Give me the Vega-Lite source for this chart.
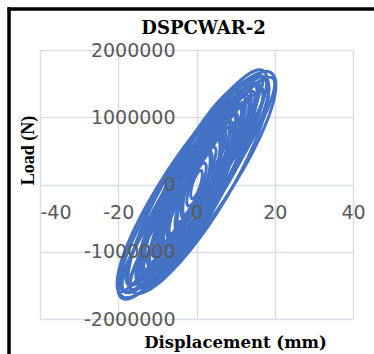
{
  "$schema": "https://vega.github.io/schema/vega-lite/v6.json",
  "width": 313,
  "height": 269,
  "autosize": {"type": "none"},
  "padding": {"left": 40, "top": 50, "right": 21, "bottom": 35},
  "background": "white",
  "config": {"view": {"stroke": null}},
  "title": {
    "text": "DSPCWAR-2",
    "font": "DejaVu Serif",
    "fontWeight": "bold",
    "fontSize": 18,
    "color": "black",
    "anchor": "middle",
    "frame": "group",
    "dx": 7,
    "baseline": "alphabetic",
    "offset": -46.5
  },
  "resolve": {"axis": {"x": "independent", "y": "independent"}},
  "layer": [
    {
      "data": {
        "values": [
          {"c":1,"i":0,"x":20.3,"y":1480000},{"c":1,"i":1,"x":17.58,"y":1682000},{"c":1,"i":2,"x":10.15,"y":1433000},{"c":1,"i":3,"x":0,"y":800000},{"c":1,"i":4,"x":-10.15,"y":-47000},{"c":1,"i":5,"x":-17.58,"y":-882000},{"c":1,"i":6,"x":-20.3,"y":-1480000},{"c":1,"i":7,"x":-17.58,"y":-1682000},{"c":1,"i":8,"x":-10.15,"y":-1433000},{"c":1,"i":9,"x":0,"y":-800000},{"c":1,"i":10,"x":10.15,"y":47000},{"c":1,"i":11,"x":17.58,"y":882000},
          {"c":2,"i":0,"x":18.5,"y":1450000},{"c":2,"i":1,"x":15.95,"y":1606000},{"c":2,"i":2,"x":9.0,"y":1331000},{"c":2,"i":3,"x":-0.5,"y":700000},{"c":2,"i":4,"x":-10.0,"y":-119000},{"c":2,"i":5,"x":-16.95,"y":-906000},{"c":2,"i":6,"x":-19.5,"y":-1450000},{"c":2,"i":7,"x":-16.95,"y":-1606000},{"c":2,"i":8,"x":-10.0,"y":-1331000},{"c":2,"i":9,"x":-0.5,"y":-700000},{"c":2,"i":10,"x":9.0,"y":119000},{"c":2,"i":11,"x":15.95,"y":906000},
          {"c":3,"i":0,"x":18.5,"y":1400000},{"c":3,"i":1,"x":16.09,"y":1622000},{"c":3,"i":2,"x":9.5,"y":1410000},{"c":3,"i":3,"x":0.5,"y":820000},{"c":3,"i":4,"x":-8.5,"y":10000},{"c":3,"i":5,"x":-15.09,"y":-802000},{"c":3,"i":6,"x":-17.5,"y":-1400000},{"c":3,"i":7,"x":-15.09,"y":-1622000},{"c":3,"i":8,"x":-8.5,"y":-1410000},{"c":3,"i":9,"x":0.5,"y":-820000},{"c":3,"i":10,"x":9.5,"y":-10000},{"c":3,"i":11,"x":16.09,"y":802000},
          {"c":4,"i":0,"x":16,"y":1400000},{"c":4,"i":1,"x":13.72,"y":1487000},{"c":4,"i":2,"x":7.5,"y":1176000},{"c":4,"i":3,"x":-1,"y":550000},{"c":4,"i":4,"x":-9.5,"y":-224000},{"c":4,"i":5,"x":-15.72,"y":-937000},{"c":4,"i":6,"x":-18,"y":-1400000},{"c":4,"i":7,"x":-15.72,"y":-1487000},{"c":4,"i":8,"x":-9.5,"y":-1176000},{"c":4,"i":9,"x":-1,"y":-550000},{"c":4,"i":10,"x":7.5,"y":224000},{"c":4,"i":11,"x":13.72,"y":937000},
          {"c":5,"i":0,"x":17,"y":1350000},{"c":5,"i":1,"x":14.86,"y":1494000},{"c":5,"i":2,"x":9,"y":1238000},{"c":5,"i":3,"x":1,"y":650000},{"c":5,"i":4,"x":-7,"y":-112000},{"c":5,"i":5,"x":-12.86,"y":-844000},{"c":5,"i":6,"x":-15,"y":-1350000},{"c":5,"i":7,"x":-12.86,"y":-1494000},{"c":5,"i":8,"x":-7,"y":-1238000},{"c":5,"i":9,"x":1,"y":-650000},{"c":5,"i":10,"x":9,"y":112000},{"c":5,"i":11,"x":14.86,"y":844000},
          {"c":6,"i":0,"x":15,"y":1300000},{"c":6,"i":1,"x":12.99,"y":1376000},{"c":6,"i":2,"x":7.5,"y":1083000},{"c":6,"i":3,"x":0,"y":500000},{"c":6,"i":4,"x":-7.5,"y":-217000},{"c":6,"i":5,"x":-12.99,"y":-876000},{"c":6,"i":6,"x":-15,"y":-1300000},{"c":6,"i":7,"x":-12.99,"y":-1376000},{"c":6,"i":8,"x":-7.5,"y":-1083000},{"c":6,"i":9,"x":0,"y":-500000},{"c":6,"i":10,"x":7.5,"y":217000},{"c":6,"i":11,"x":12.99,"y":876000},
          {"c":7,"i":0,"x":13.5,"y":1220000},{"c":7,"i":1,"x":11.62,"y":1357000},{"c":7,"i":2,"x":6.5,"y":1130000},{"c":7,"i":3,"x":-0.5,"y":600000},{"c":7,"i":4,"x":-7.5,"y":-90000},{"c":7,"i":5,"x":-12.62,"y":-757000},{"c":7,"i":6,"x":-14.5,"y":-1220000},{"c":7,"i":7,"x":-12.62,"y":-1357000},{"c":7,"i":8,"x":-7.5,"y":-1130000},{"c":7,"i":9,"x":-0.5,"y":-600000},{"c":7,"i":10,"x":6.5,"y":90000},{"c":7,"i":11,"x":11.62,"y":757000},
          {"c":8,"i":0,"x":13.5,"y":1150000},{"c":8,"i":1,"x":11.76,"y":1221000},{"c":8,"i":2,"x":7,"y":965000},{"c":8,"i":3,"x":0.5,"y":450000},{"c":8,"i":4,"x":-6,"y":-185000},{"c":8,"i":5,"x":-10.76,"y":-771000},{"c":8,"i":6,"x":-12.5,"y":-1150000},{"c":8,"i":7,"x":-10.76,"y":-1221000},{"c":8,"i":8,"x":-6,"y":-965000},{"c":8,"i":9,"x":0.5,"y":-450000},{"c":8,"i":10,"x":7,"y":185000},{"c":8,"i":11,"x":11.76,"y":771000},
          {"c":9,"i":0,"x":12,"y":1080000},{"c":9,"i":1,"x":10.39,"y":1210000},{"c":9,"i":2,"x":6,"y":1016000},{"c":9,"i":3,"x":0,"y":550000},{"c":9,"i":4,"x":-6,"y":-64000},{"c":9,"i":5,"x":-10.39,"y":-660000},{"c":9,"i":6,"x":-12,"y":-1080000},{"c":9,"i":7,"x":-10.39,"y":-1210000},{"c":9,"i":8,"x":-6,"y":-1016000},{"c":9,"i":9,"x":0,"y":-550000},{"c":9,"i":10,"x":6,"y":64000},{"c":9,"i":11,"x":10.39,"y":660000},
          {"c":10,"i":0,"x":10.5,"y":1000000},{"c":10,"i":1,"x":9.03,"y":1066000},{"c":10,"i":2,"x":5,"y":846000},{"c":10,"i":3,"x":-0.5,"y":400000},{"c":10,"i":4,"x":-6,"y":-154000},{"c":10,"i":5,"x":-10.03,"y":-666000},{"c":10,"i":6,"x":-11.5,"y":-1000000},{"c":10,"i":7,"x":-10.03,"y":-1066000},{"c":10,"i":8,"x":-6,"y":-846000},{"c":10,"i":9,"x":-0.5,"y":-400000},{"c":10,"i":10,"x":5,"y":154000},{"c":10,"i":11,"x":9.03,"y":666000},
          {"c":11,"i":0,"x":9.5,"y":850000},{"c":11,"i":1,"x":8.29,"y":936000},{"c":11,"i":2,"x":5,"y":771000},{"c":11,"i":3,"x":0.5,"y":400000},{"c":11,"i":4,"x":-4,"y":-79000},{"c":11,"i":5,"x":-7.29,"y":-536000},{"c":11,"i":6,"x":-8.5,"y":-850000},{"c":11,"i":7,"x":-7.29,"y":-936000},{"c":11,"i":8,"x":-4,"y":-771000},{"c":11,"i":9,"x":0.5,"y":-400000},{"c":11,"i":10,"x":5,"y":79000},{"c":11,"i":11,"x":8.29,"y":536000},
          {"c":12,"i":0,"x":7,"y":680000},{"c":12,"i":1,"x":6.06,"y":764000},{"c":12,"i":2,"x":3.5,"y":643000},{"c":12,"i":3,"x":0,"y":350000},{"c":12,"i":4,"x":-3.5,"y":-37000},{"c":12,"i":5,"x":-6.06,"y":-414000},{"c":12,"i":6,"x":-7,"y":-680000},{"c":12,"i":7,"x":-6.06,"y":-764000},{"c":12,"i":8,"x":-3.5,"y":-643000},{"c":12,"i":9,"x":0,"y":-350000},{"c":12,"i":10,"x":3.5,"y":37000},{"c":12,"i":11,"x":6.06,"y":414000},
          {"c":13,"i":0,"x":5,"y":500000},{"c":13,"i":1,"x":4.33,"y":558000},{"c":13,"i":2,"x":2.5,"y":467000},{"c":13,"i":3,"x":0,"y":250000},{"c":13,"i":4,"x":-2.5,"y":-33000},{"c":13,"i":5,"x":-4.33,"y":-308000},{"c":13,"i":6,"x":-5,"y":-500000},{"c":13,"i":7,"x":-4.33,"y":-558000},{"c":13,"i":8,"x":-2.5,"y":-467000},{"c":13,"i":9,"x":0,"y":-250000},{"c":13,"i":10,"x":2.5,"y":33000},{"c":13,"i":11,"x":4.33,"y":308000},
          {"c":14,"i":0,"x":18,"y":1550000},{"c":14,"i":1,"x":15.45,"y":1702000},{"c":14,"i":2,"x":8.5,"y":1399000},{"c":14,"i":3,"x":-1,"y":720000},{"c":14,"i":4,"x":-10.5,"y":-151000},{"c":14,"i":5,"x":-17.45,"y":-982000},{"c":14,"i":6,"x":-20,"y":-1550000},{"c":14,"i":7,"x":-17.45,"y":-1702000},{"c":14,"i":8,"x":-10.5,"y":-1399000},{"c":14,"i":9,"x":-1,"y":-720000},{"c":14,"i":10,"x":8.5,"y":151000},{"c":14,"i":11,"x":15.45,"y":982000},
          {"c":15,"i":0,"x":11,"y":900000},{"c":15,"i":1,"x":9.66,"y":1054000},{"c":15,"i":2,"x":6,"y":926000},{"c":15,"i":3,"x":1,"y":550000},{"c":15,"i":4,"x":-4,"y":26000},{"c":15,"i":5,"x":-7.66,"y":-504000},{"c":15,"i":6,"x":-9,"y":-900000},{"c":15,"i":7,"x":-7.66,"y":-1054000},{"c":15,"i":8,"x":-4,"y":-926000},{"c":15,"i":9,"x":1,"y":-550000},{"c":15,"i":10,"x":6,"y":-26000},{"c":15,"i":11,"x":9.66,"y":504000},
          {"c":16,"i":0,"x":18,"y":1500000},{"c":16,"i":1,"x":15.66,"y":1524000},{"c":16,"i":2,"x":9.25,"y":1140000},{"c":16,"i":3,"x":0.5,"y":450000},{"c":16,"i":4,"x":-8.25,"y":-360000},{"c":16,"i":5,"x":-14.66,"y":-1074000},{"c":16,"i":6,"x":-17,"y":-1500000},{"c":16,"i":7,"x":-14.66,"y":-1524000},{"c":16,"i":8,"x":-8.25,"y":-1140000},{"c":16,"i":9,"x":0.5,"y":-450000},{"c":16,"i":10,"x":9.25,"y":360000},{"c":16,"i":11,"x":15.66,"y":1074000},
          {"c":17,"i":0,"x":16,"y":1450000},{"c":17,"i":1,"x":13.79,"y":1431000},{"c":17,"i":2,"x":7.75,"y":1028000},{"c":17,"i":3,"x":-0.5,"y":350000},{"c":17,"i":4,"x":-8.75,"y":-422000},{"c":17,"i":5,"x":-14.79,"y":-1081000},{"c":17,"i":6,"x":-17,"y":-1450000},{"c":17,"i":7,"x":-14.79,"y":-1431000},{"c":17,"i":8,"x":-8.75,"y":-1028000},{"c":17,"i":9,"x":-0.5,"y":-350000},{"c":17,"i":10,"x":7.75,"y":422000},{"c":17,"i":11,"x":13.79,"y":1081000},
          {"c":18,"i":0,"x":15.5,"y":1350000},{"c":18,"i":1,"x":13.42,"y":1544000},{"c":18,"i":2,"x":7.75,"y":1325000},{"c":18,"i":3,"x":0,"y":750000},{"c":18,"i":4,"x":-7.75,"y":-25000},{"c":18,"i":5,"x":-13.42,"y":-794000},{"c":18,"i":6,"x":-15.5,"y":-1350000},{"c":18,"i":7,"x":-13.42,"y":-1544000},{"c":18,"i":8,"x":-7.75,"y":-1325000},{"c":18,"i":9,"x":0,"y":-750000},{"c":18,"i":10,"x":7.75,"y":25000},{"c":18,"i":11,"x":13.42,"y":794000},
          {"c":19,"i":0,"x":15,"y":1300000},{"c":19,"i":1,"x":13.06,"y":1276000},{"c":19,"i":2,"x":7.75,"y":910000},{"c":19,"i":3,"x":0.5,"y":300000},{"c":19,"i":4,"x":-6.75,"y":-390000},{"c":19,"i":5,"x":-12.06,"y":-976000},{"c":19,"i":6,"x":-14,"y":-1300000},{"c":19,"i":7,"x":-12.06,"y":-1276000},{"c":19,"i":8,"x":-6.75,"y":-910000},{"c":19,"i":9,"x":0.5,"y":-300000},{"c":19,"i":10,"x":7.75,"y":390000},{"c":19,"i":11,"x":13.06,"y":976000},
          {"c":20,"i":0,"x":12.5,"y":1200000},{"c":20,"i":1,"x":10.76,"y":1389000},{"c":20,"i":2,"x":6,"y":1206000},{"c":20,"i":3,"x":-0.5,"y":700000},{"c":20,"i":4,"x":-7,"y":6000},{"c":20,"i":5,"x":-11.76,"y":-689000},{"c":20,"i":6,"x":-13.5,"y":-1200000},{"c":20,"i":7,"x":-11.76,"y":-1389000},{"c":20,"i":8,"x":-7,"y":-1206000},{"c":20,"i":9,"x":-0.5,"y":-700000},{"c":20,"i":10,"x":6,"y":-6000},{"c":20,"i":11,"x":10.76,"y":689000},
          {"c":21,"i":0,"x":12.5,"y":1150000},{"c":21,"i":1,"x":10.83,"y":1146000},{"c":21,"i":2,"x":6.25,"y":835000},{"c":21,"i":3,"x":0,"y":300000},{"c":21,"i":4,"x":-6.25,"y":-315000},{"c":21,"i":5,"x":-10.83,"y":-846000},{"c":21,"i":6,"x":-12.5,"y":-1150000},{"c":21,"i":7,"x":-10.83,"y":-1146000},{"c":21,"i":8,"x":-6.25,"y":-835000},{"c":21,"i":9,"x":0,"y":-300000},{"c":21,"i":10,"x":6.25,"y":315000},{"c":21,"i":11,"x":10.83,"y":846000},
          {"c":22,"i":0,"x":10,"y":950000},{"c":22,"i":1,"x":8.66,"y":1123000},{"c":22,"i":2,"x":5,"y":995000},{"c":22,"i":3,"x":0,"y":600000},{"c":22,"i":4,"x":-5,"y":45000},{"c":22,"i":5,"x":-8.66,"y":-523000},{"c":22,"i":6,"x":-10,"y":-950000},{"c":22,"i":7,"x":-8.66,"y":-1123000},{"c":22,"i":8,"x":-5,"y":-995000},{"c":22,"i":9,"x":0,"y":-600000},{"c":22,"i":10,"x":5,"y":-45000},{"c":22,"i":11,"x":8.66,"y":523000},
          {"c":23,"i":0,"x":9,"y":850000},{"c":23,"i":1,"x":7.79,"y":836000},{"c":23,"i":2,"x":4.5,"y":598000},{"c":23,"i":3,"x":0,"y":200000},{"c":23,"i":4,"x":-4.5,"y":-252000},{"c":23,"i":5,"x":-7.79,"y":-636000},{"c":23,"i":6,"x":-9,"y":-850000},{"c":23,"i":7,"x":-7.79,"y":-836000},{"c":23,"i":8,"x":-4.5,"y":-598000},{"c":23,"i":9,"x":0,"y":-200000},{"c":23,"i":10,"x":4.5,"y":252000},{"c":23,"i":11,"x":7.79,"y":636000},
          {"c":24,"i":0,"x":7.5,"y":800000},{"c":24,"i":1,"x":6.43,"y":943000},{"c":24,"i":2,"x":3.5,"y":833000},{"c":24,"i":3,"x":-0.5,"y":500000},{"c":24,"i":4,"x":-4.5,"y":33000},{"c":24,"i":5,"x":-7.43,"y":-443000},{"c":24,"i":6,"x":-8.5,"y":-800000},{"c":24,"i":7,"x":-7.43,"y":-943000},{"c":24,"i":8,"x":-4.5,"y":-833000},{"c":24,"i":9,"x":-0.5,"y":-500000},{"c":24,"i":10,"x":3.5,"y":-33000},{"c":24,"i":11,"x":6.43,"y":443000},
          {"c":25,"i":0,"x":6.5,"y":600000},{"c":25,"i":1,"x":5.7,"y":720000},{"c":25,"i":2,"x":3.5,"y":646000},{"c":25,"i":3,"x":0.5,"y":400000},{"c":25,"i":4,"x":-2.5,"y":46000},{"c":25,"i":5,"x":-4.7,"y":-320000},{"c":25,"i":6,"x":-5.5,"y":-600000},{"c":25,"i":7,"x":-4.7,"y":-720000},{"c":25,"i":8,"x":-2.5,"y":-646000},{"c":25,"i":9,"x":0.5,"y":-400000},{"c":25,"i":10,"x":3.5,"y":-46000},{"c":25,"i":11,"x":5.7,"y":320000},
          {"c":26,"i":0,"x":20,"y":1500000},{"c":26,"i":1,"x":17.39,"y":1574000},{"c":26,"i":2,"x":10.25,"y":1226000},{"c":26,"i":3,"x":0.5,"y":550000},{"c":26,"i":4,"x":-9.25,"y":-274000},{"c":26,"i":5,"x":-16.39,"y":-1024000},{"c":26,"i":6,"x":-19,"y":-1500000},{"c":26,"i":7,"x":-16.39,"y":-1574000},{"c":26,"i":8,"x":-9.25,"y":-1226000},{"c":26,"i":9,"x":0.5,"y":-550000},{"c":26,"i":10,"x":10.25,"y":274000},{"c":26,"i":11,"x":17.39,"y":1024000},
          {"c":27,"i":0,"x":17,"y":1550000},{"c":27,"i":1,"x":14.52,"y":1542000},{"c":27,"i":2,"x":7.75,"y":1121000},{"c":27,"i":3,"x":-1.5,"y":400000},{"c":27,"i":4,"x":-10.75,"y":-429000},{"c":27,"i":5,"x":-17.52,"y":-1142000},{"c":27,"i":6,"x":-20,"y":-1550000},{"c":27,"i":7,"x":-17.52,"y":-1542000},{"c":27,"i":8,"x":-10.75,"y":-1121000},{"c":27,"i":9,"x":-1.5,"y":-400000},{"c":27,"i":10,"x":7.75,"y":429000},{"c":27,"i":11,"x":14.52,"y":1142000},
          {"c":28,"i":0,"x":4,"y":400000},{"c":28,"i":1,"x":3.46,"y":496000},{"c":28,"i":2,"x":2,"y":460000},{"c":28,"i":3,"x":0,"y":300000},{"c":28,"i":4,"x":-2,"y":60000},{"c":28,"i":5,"x":-3.46,"y":-196000},{"c":28,"i":6,"x":-4,"y":-400000},{"c":28,"i":7,"x":-3.46,"y":-496000},{"c":28,"i":8,"x":-2,"y":-460000},{"c":28,"i":9,"x":0,"y":-300000},{"c":28,"i":10,"x":2,"y":-60000},{"c":28,"i":11,"x":3.46,"y":196000},
          {"c":29,"i":0,"x":2.5,"y":250000},{"c":29,"i":1,"x":2.17,"y":317000},{"c":29,"i":2,"x":1.25,"y":298000},{"c":29,"i":3,"x":0,"y":200000},{"c":29,"i":4,"x":-1.25,"y":48000},{"c":29,"i":5,"x":-2.17,"y":-117000},{"c":29,"i":6,"x":-2.5,"y":-250000},{"c":29,"i":7,"x":-2.17,"y":-317000},{"c":29,"i":8,"x":-1.25,"y":-298000},{"c":29,"i":9,"x":0,"y":-200000},{"c":29,"i":10,"x":1.25,"y":-48000},{"c":29,"i":11,"x":2.17,"y":117000},
          {"c":30,"i":0,"x":6.5,"y":700000},{"c":30,"i":1,"x":5.56,"y":881000},{"c":30,"i":2,"x":3,"y":826000},{"c":30,"i":3,"x":-0.5,"y":550000},{"c":30,"i":4,"x":-4,"y":126000},{"c":30,"i":5,"x":-6.56,"y":-331000},{"c":30,"i":6,"x":-7.5,"y":-700000},{"c":30,"i":7,"x":-6.56,"y":-881000},{"c":30,"i":8,"x":-4,"y":-826000},{"c":30,"i":9,"x":-0.5,"y":-550000},{"c":30,"i":10,"x":3,"y":-126000},{"c":30,"i":11,"x":5.56,"y":331000},
          {"c":31,"i":0,"x":11.5,"y":1050000},{"c":31,"i":1,"x":10.03,"y":1259000},{"c":31,"i":2,"x":6,"y":1131000},{"c":31,"i":3,"x":0.5,"y":700000},{"c":31,"i":4,"x":-5,"y":81000},{"c":31,"i":5,"x":-9.03,"y":-559000},{"c":31,"i":6,"x":-10.5,"y":-1050000},{"c":31,"i":7,"x":-9.03,"y":-1259000},{"c":31,"i":8,"x":-5,"y":-1131000},{"c":31,"i":9,"x":0.5,"y":-700000},{"c":31,"i":10,"x":6,"y":-81000},{"c":31,"i":11,"x":10.03,"y":559000},
          {"c":32,"i":0,"x":14,"y":1250000},{"c":32,"i":1,"x":12.12,"y":1483000},{"c":32,"i":2,"x":7,"y":1318000},{"c":32,"i":3,"x":0,"y":800000},{"c":32,"i":4,"x":-7,"y":68000},{"c":32,"i":5,"x":-12.12,"y":-683000},{"c":32,"i":6,"x":-14,"y":-1250000},{"c":32,"i":7,"x":-12.12,"y":-1483000},{"c":32,"i":8,"x":-7,"y":-1318000},{"c":32,"i":9,"x":0,"y":-800000},{"c":32,"i":10,"x":7,"y":-68000},{"c":32,"i":11,"x":12.12,"y":683000},
          {"c":33,"i":0,"x":6,"y":550000},{"c":33,"i":1,"x":5.26,"y":701000},{"c":33,"i":2,"x":3.25,"y":665000},{"c":33,"i":3,"x":0.5,"y":450000},{"c":33,"i":4,"x":-2.25,"y":115000},{"c":33,"i":5,"x":-4.26,"y":-251000},{"c":33,"i":6,"x":-5,"y":-550000},{"c":33,"i":7,"x":-4.26,"y":-701000},{"c":33,"i":8,"x":-2.25,"y":-665000},{"c":33,"i":9,"x":0.5,"y":-450000},{"c":33,"i":10,"x":3.25,"y":-115000},{"c":33,"i":11,"x":5.26,"y":251000},
          {"c":34,"i":0,"x":8.5,"y":900000},{"c":34,"i":1,"x":7.29,"y":1129000},{"c":34,"i":2,"x":4,"y":1056000},{"c":34,"i":3,"x":-0.5,"y":700000},{"c":34,"i":4,"x":-5,"y":156000},{"c":34,"i":5,"x":-8.29,"y":-429000},{"c":34,"i":6,"x":-9.5,"y":-900000},{"c":34,"i":7,"x":-8.29,"y":-1129000},{"c":34,"i":8,"x":-5,"y":-1056000},{"c":34,"i":9,"x":-0.5,"y":-700000},{"c":34,"i":10,"x":4,"y":-156000},{"c":34,"i":11,"x":7.29,"y":429000},
          {"c":35,"i":0,"x":3.5,"y":350000},{"c":35,"i":1,"x":3.03,"y":478000},{"c":35,"i":2,"x":1.75,"y":478000},{"c":35,"i":3,"x":0,"y":350000},{"c":35,"i":4,"x":-1.75,"y":128000},{"c":35,"i":5,"x":-3.03,"y":-128000},{"c":35,"i":6,"x":-3.5,"y":-350000},{"c":35,"i":7,"x":-3.03,"y":-478000},{"c":35,"i":8,"x":-1.75,"y":-478000},{"c":35,"i":9,"x":0,"y":-350000},{"c":35,"i":10,"x":1.75,"y":-128000},{"c":35,"i":11,"x":3.03,"y":128000},
          {"c":36,"i":0,"x":1.5,"y":150000},{"c":36,"i":1,"x":1.3,"y":205000},{"c":36,"i":2,"x":0.75,"y":205000},{"c":36,"i":3,"x":0,"y":150000},{"c":36,"i":4,"x":-0.75,"y":55000},{"c":36,"i":5,"x":-1.3,"y":-55000},{"c":36,"i":6,"x":-1.5,"y":-150000},{"c":36,"i":7,"x":-1.3,"y":-205000},{"c":36,"i":8,"x":-0.75,"y":-205000},{"c":36,"i":9,"x":0,"y":-150000},{"c":36,"i":10,"x":0.75,"y":-55000},{"c":36,"i":11,"x":1.3,"y":55000}
        ]
      },
      "mark": {"type": "line", "interpolate": "cardinal-closed", "color": "#4472C4", "strokeWidth": 3, "strokeJoin": "round"},
      "encoding": {
        "x": {
          "field": "x", "type": "quantitative",
          "scale": {"domain": [-40, 40], "nice": false, "zero": false},
          "axis": {
            "orient": "bottom", "values": [-40, -20, 0, 20, 40],
            "grid": true, "gridColor": "#D9DEE6", "gridWidth": 1.5,
            "labels": false, "ticks": false, "domain": false,
            "title": "Displacement (mm)", "titleFont": "DejaVu Serif", "titleFontWeight": "bold", "titleFontSize": 16.5, "titleColor": "black",
            "titleX": 195, "titleY": 28, "titleAlign": "center", "titleBaseline": "alphabetic"
          }
        },
        "y": {
          "field": "y", "type": "quantitative",
          "scale": {"domain": [-2000000, 2000000], "nice": false, "zero": false},
          "axis": {
            "orient": "left", "values": [-2000000, -1000000, 0, 1000000, 2000000],
            "grid": true, "gridColor": "#D9DEE6", "gridWidth": 1.5,
            "labels": false, "ticks": false, "domain": false,
            "title": "Load (N)", "titleFont": "Liberation Serif", "titleFontWeight": "bold", "titleFontSize": 18, "titleColor": "black",
            "titleAngle": 270, "titleX": -11.5, "titleY": 100, "titleAlign": "center", "titleBaseline": "middle"
          }
        },
        "detail": {"field": "c", "type": "nominal"},
        "order": {"field": "i", "type": "quantitative"}
      }
    },
    {
      "data": {"values": [{}]},
      "mark": {"type": "rule", "color": "black", "strokeWidth": 3.5},
      "encoding": {
        "x": {
          "datum": -47.92, "type": "quantitative",
          "scale": {"domain": [-40, 40], "nice": false, "zero": false},
          "axis": {
            "orient": "bottom", "offset": -134.5, "values": [-40, -20, 0, 20, 40],
            "grid": false, "ticks": false, "tickSize": 0, "domain": false, "title": null,
            "labelFont": "DejaVu Sans", "labelFontSize": 19, "labelColor": "#595959",
            "labelPadding": 28, "labelBaseline": "middle", "labelFlush": false, "labelOverlap": false,
            "labelAlign": {"condition": {"test": "datum.value == -40", "value": "left"}, "value": "center"},
            "labelExpr": "'' + datum.value", "zindex": 1
          }
        },
        "y": {
          "datum": 2635000, "type": "quantitative",
          "scale": {"domain": [-2000000, 2000000], "nice": false, "zero": false},
          "axis": {
            "orient": "left", "offset": -156.5, "values": [-2000000, -1000000, 0, 1000000, 2000000],
            "grid": false, "ticks": false, "tickSize": 0, "domain": false, "title": null,
            "labelFont": "DejaVu Sans", "labelFontSize": 19, "labelColor": "#595959",
            "labelPadding": 21.5, "labelBaseline": "middle", "labelAlign": "right", "labelFlush": false, "labelOverlap": false,
            "labelExpr": "'' + datum.value", "zindex": 1
          }
        },
        "y2": {"datum": -2700000}
      }
    },
    {
      "data": {"values": [{}]},
      "mark": {"type": "rule", "color": "black", "strokeWidth": 3.5},
      "encoding": {
        "x": {"datum": -48.3, "type": "quantitative", "scale": {"domain": [-40, 40], "nice": false, "zero": false}, "axis": null},
        "x2": {"datum": 46},
        "y": {"datum": 2610000, "type": "quantitative", "scale": {"domain": [-2000000, 2000000], "nice": false, "zero": false}, "axis": null}
      }
    }
  ]
}
